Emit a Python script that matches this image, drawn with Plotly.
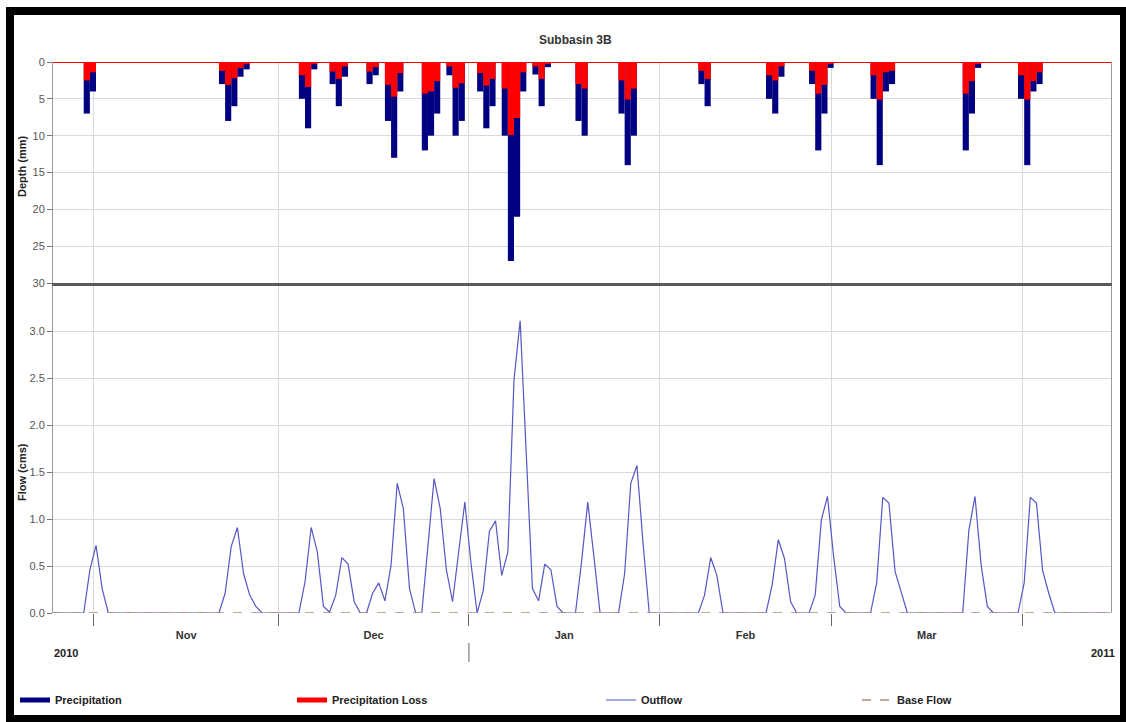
import plotly.graph_objects as go
import pandas as pd

W, H = 1126, 722

# ---------------- data ----------------
bar_dates = [
    "2010-10-31", "2010-11-01",
    "2010-11-22", "2010-11-23", "2010-11-24", "2010-11-25", "2010-11-26",
    "2010-12-05", "2010-12-06", "2010-12-07",
    "2010-12-10", "2010-12-11", "2010-12-12",
    "2010-12-16", "2010-12-17",
    "2010-12-19", "2010-12-20", "2010-12-21",
    "2010-12-25", "2010-12-26", "2010-12-27",
    "2010-12-29", "2010-12-30", "2010-12-31",
    "2011-01-03", "2011-01-04", "2011-01-05",
    "2011-01-07", "2011-01-08", "2011-01-09", "2011-01-10",
    "2011-01-12", "2011-01-13", "2011-01-14",
    "2011-01-19", "2011-01-20",
    "2011-01-26", "2011-01-27", "2011-01-28",
    "2011-02-08", "2011-02-09",
    "2011-02-19", "2011-02-20", "2011-02-21",
    "2011-02-26", "2011-02-27", "2011-02-28", "2011-03-01",
    "2011-03-08", "2011-03-09", "2011-03-10", "2011-03-11",
    "2011-03-23", "2011-03-24", "2011-03-25",
    "2011-04-01", "2011-04-02", "2011-04-03", "2011-04-04",
]
precipitation = [
    7, 4,
    3, 8, 6, 2, 1,
    5, 9, 1,
    3, 6, 2,
    3, 1.8,
    8, 13, 4,
    12, 10, 7,
    1.8, 10, 8,
    4, 9, 6,
    10, 27, 21, 4,
    1.7, 6, 0.7,
    8, 10,
    7, 14, 10,
    3, 6,
    5, 7, 2,
    3, 12, 7, 0.8,
    5, 14, 4, 3,
    12, 7, 0.8,
    5, 14, 4, 3,
]
precipitation_loss = [
    2.5, 1.4,
    1.2, 3.1, 2.2, 0.8, 0.3,
    1.8, 3.4, 0.3,
    1.3, 2.3, 0.6,
    1.3, 0.7,
    3.1, 4.7, 1.5,
    4.3, 4.0, 2.6,
    0.6, 3.5, 2.9,
    1.5, 3.2, 2.3,
    3.6, 9.9, 7.6, 1.4,
    0.6, 2.3, 0.2,
    3.0, 3.6,
    2.5, 5.1, 3.6,
    1.2, 2.3,
    1.8, 2.5, 0.6,
    1.2, 4.3, 3.1, 0.2,
    1.8, 5.1, 1.4, 1.2,
    4.3, 2.6, 0.2,
    1.8, 5.1, 2.6, 1.4,
]

flow_dates = [
    "2010-10-25", "2010-10-30", "2010-10-31", "2010-11-01", "2010-11-02", "2010-11-03",
    "2010-11-21", "2010-11-22", "2010-11-23", "2010-11-24", "2010-11-25", "2010-11-26",
    "2010-11-27", "2010-11-28",
    "2010-12-04", "2010-12-05", "2010-12-06", "2010-12-07", "2010-12-08", "2010-12-09",
    "2010-12-10", "2010-12-11", "2010-12-12", "2010-12-13", "2010-12-14", "2010-12-15",
    "2010-12-16", "2010-12-17", "2010-12-18", "2010-12-19", "2010-12-20", "2010-12-21",
    "2010-12-22", "2010-12-23", "2010-12-24", "2010-12-25", "2010-12-26", "2010-12-27",
    "2010-12-28", "2010-12-29", "2010-12-30", "2010-12-31", "2011-01-01", "2011-01-02",
    "2011-01-03", "2011-01-04", "2011-01-05", "2011-01-06", "2011-01-07", "2011-01-08",
    "2011-01-09", "2011-01-10", "2011-01-11", "2011-01-12", "2011-01-13", "2011-01-14",
    "2011-01-15", "2011-01-16",
    "2011-01-18", "2011-01-19", "2011-01-20", "2011-01-21", "2011-01-22",
    "2011-01-25", "2011-01-26", "2011-01-27", "2011-01-28", "2011-01-29", "2011-01-30",
    "2011-02-07", "2011-02-08", "2011-02-09", "2011-02-10", "2011-02-11",
    "2011-02-18", "2011-02-19", "2011-02-20", "2011-02-21", "2011-02-22", "2011-02-23",
    "2011-02-25", "2011-02-26", "2011-02-27", "2011-02-28", "2011-03-01", "2011-03-02",
    "2011-03-03",
    "2011-03-07", "2011-03-08", "2011-03-09", "2011-03-10", "2011-03-11", "2011-03-12",
    "2011-03-13",
    "2011-03-22", "2011-03-23", "2011-03-24", "2011-03-25", "2011-03-26", "2011-03-27",
    "2011-03-31", "2011-04-01", "2011-04-02", "2011-04-03", "2011-04-04", "2011-04-05",
    "2011-04-06", "2011-04-15",
]
outflow = [
    0, 0, 0.46, 0.72, 0.26, 0,
    0, 0.21, 0.71, 0.91, 0.42, 0.19,
    0.07, 0,
    0, 0.33, 0.91, 0.65, 0.07, 0.01,
    0.19, 0.59, 0.52, 0.12, 0, 0,
    0.21, 0.32, 0.13, 0.51, 1.38, 1.11,
    0.26, 0, 0, 0.72, 1.43, 1.11,
    0.46, 0.12, 0.63, 1.18, 0.53, 0,
    0.24, 0.87, 0.98, 0.40, 0.65, 2.48,
    3.11, 1.65, 0.26, 0.13, 0.52, 0.46,
    0.07, 0,
    0, 0.55, 1.18, 0.60, 0,
    0, 0.42, 1.38, 1.57, 0.74, 0,
    0, 0.19, 0.59, 0.40, 0,
    0, 0.30, 0.78, 0.58, 0.12, 0,
    0, 0.19, 0.99, 1.24, 0.60, 0.07,
    0,
    0, 0.32, 1.23, 1.17, 0.44, 0.22,
    0,
    0, 0.88, 1.24, 0.51, 0.07, 0,
    0, 0.32, 1.23, 1.17, 0.45, 0.21,
    0, 0,
]
base_dates = ["2010-10-25", "2011-04-15"]
base_flow = [0, 0]

STAMP_HOUR = 8  # simulation time stamp of each daily value
X_START = "2010-10-25 08:00"
X_END = "2011-04-15 11:00"

# ---------------- derived ----------------
DAY_MS = 86400000
t_flow = pd.to_datetime(flow_dates) + pd.Timedelta(hours=STAMP_HOUR)
t_base = pd.to_datetime(base_dates) + pd.Timedelta(hours=STAMP_HOUR)
# each precipitation bar covers the interval ending at its time stamp
t_bar = pd.to_datetime(bar_dates) + pd.Timedelta(hours=STAMP_HOUR) - pd.Timedelta(hours=12)

FONT = "Liberation Sans Narrow, Arial Narrow, Liberation Sans, Arial, sans-serif"
NAVY = "#000080"
RED = "#ff0000"
OUTC = "#5656c8"
BASEC = "#b58a7a"
GRID = "#d9d9d9"


def py(px):
    return 1 - px / H


def pxx(px):
    return px / W


fig = go.Figure()

fig.add_trace(go.Bar(x=t_bar, y=precipitation, width=DAY_MS, name="Precipitation",
                     marker=dict(color=NAVY, line=dict(width=0)),
                     xaxis="x2", yaxis="y2", showlegend=False))
fig.add_trace(go.Bar(x=t_bar, y=precipitation_loss, width=DAY_MS, name="Precipitation Loss",
                     marker=dict(color=RED, line=dict(width=0)),
                     xaxis="x2", yaxis="y2", showlegend=False))
fig.add_trace(go.Scatter(x=t_flow, y=outflow, mode="lines", name="Outflow",
                         line=dict(color=OUTC, width=1.2), legend="legend3"))
fig.add_trace(go.Scatter(x=t_base, y=base_flow, mode="lines", name="Base Flow",
                         line=dict(color=BASEC, width=1.3, dash="dash"), legend="legend4"))
# legend swatches for the bar series (drawn as thick lines, like the original)
fig.add_trace(go.Scatter(x=[None], y=[None], mode="lines", name="Precipitation",
                         line=dict(color=NAVY, width=5), legend="legend"))
fig.add_trace(go.Scatter(x=[None], y=[None], mode="lines", name="Precipitation Loss",
                         line=dict(color=RED, width=5), legend="legend2"))

xdom = [pxx(53), pxx(1111)]
common_x = dict(type="date", domain=xdom, range=[X_START, X_END], tick0="2010-11-01",
                dtick="M1", showgrid=True, gridcolor=GRID, gridwidth=1, zeroline=False)

bold = dict(family=FONT, size=11, color="#222", weight="bold")
legend_common = dict(orientation="h", yanchor="middle", xanchor="left",
                     bgcolor="rgba(0,0,0,0)", font=bold, itemwidth=30)
tickf = dict(family=FONT, size=11, color="#555")

fig.update_layout(
    width=W, height=H,
    margin=dict(l=0, r=0, t=0, b=0),
    paper_bgcolor="white", plot_bgcolor="white",
    template="none",
    barmode="overlay",
    hovermode=False,
    font=dict(family=FONT, size=11, color="#444"),
    xaxis=dict(**common_x, anchor="y", tickformat="%b", ticklabelmode="period",
               ticks="outside", ticklen=12, tickcolor="#666", tickwidth=1,
               tickfont=dict(family=FONT, size=11, color="#333", weight="bold"),
               showline=False),
    xaxis2=dict(**common_x, anchor="y2", matches="x", showticklabels=False, ticks="",
                showline=True, linecolor="#5a5a5a", linewidth=3),
    yaxis=dict(domain=[py(613), py(283)], range=[0, 3.511], anchor="x",
               tickvals=[0, 0.5, 1.0, 1.5, 2.0, 2.5, 3.0],
               ticktext=["0.0", "0.5", "1.0", "1.5", "2.0", "2.5", "3.0"],
               ticks="outside", ticklen=5, tickcolor="#777", tickfont=tickf,
               showgrid=True, gridcolor=GRID, zeroline=False,
               showline=True, mirror=True, linecolor="#999", linewidth=1),
    yaxis2=dict(domain=[py(283), py(62)], range=[30, 0], anchor="x2",
                tickvals=[0, 5, 10, 15, 20, 25, 30],
                ticks="outside", ticklen=5, tickcolor="#777", tickfont=tickf,
                showgrid=True, gridcolor=GRID, zeroline=True, zerolinecolor=RED,
                zerolinewidth=1,
                showline=True, mirror=True, linecolor="#999", linewidth=1),
    legend=dict(**legend_common, x=pxx(15), y=py(700)),
    legend2=dict(**legend_common, x=pxx(292), y=py(700)),
    legend3=dict(**legend_common, x=pxx(601), y=py(700)),
    legend4=dict(**legend_common, x=pxx(857), y=py(700)),
    annotations=[
        dict(text="Subbasin 3B", x=pxx(575), y=py(40), xref="paper", yref="paper",
             xanchor="center", yanchor="middle", showarrow=False,
             font=dict(family=FONT, size=12, color="#333", weight="bold")),
        dict(text="Depth (mm)", x=pxx(22), y=py(167), xref="paper", yref="paper",
             xanchor="center", yanchor="middle", textangle=-90, showarrow=False, font=bold),
        dict(text="Flow (cms)", x=pxx(22), y=py(472), xref="paper", yref="paper",
             xanchor="center", yanchor="middle", textangle=-90, showarrow=False, font=bold),
        dict(text="2010", x=pxx(66), y=py(653), xref="paper", yref="paper",
             xanchor="center", yanchor="middle", showarrow=False, font=bold),
        dict(text="2011", x=pxx(1117), y=py(653), xref="paper", yref="paper",
             xanchor="right", yanchor="middle", showarrow=False, font=bold),
    ],
    shapes=[
        # year boundary tick in the year row
        dict(type="line", xref="x", yref="paper", x0="2011-01-01", x1="2011-01-01",
             y0=py(662), y1=py(643), line=dict(color="#666", width=1)),
        # outer black frame
        dict(type="rect", xref="paper", yref="paper", x0=pxx(10), x1=pxx(1124),
             y0=py(719), y1=py(11), line=dict(color="black", width=8),
             fillcolor="rgba(0,0,0,0)", layer="above"),
    ],
)

fig.write_html("out.html", config={"displayModeBar": False},
               post_script="document.body.style.margin='0';")
